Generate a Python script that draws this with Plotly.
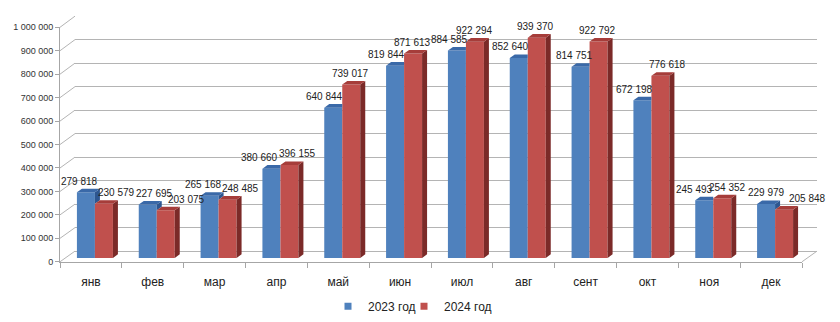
import plotly.graph_objects as go

# ---------------- data ----------------
months = ["янв", "фев", "мар", "апр", "май", "июн", "июл", "авг", "сент", "окт", "ноя", "дек"]
series_names = ["2023 год", "2024 год"]
v2023 = [279818, 227695, 265168, 380660, 640844, 819844, 884585, 852640, 814751, 672198, 245493, 229979]
v2024 = [230579, 203075, 248485, 396155, 739017, 871613, 922294, 939370, 922792, 776618, 254352, 205848]
y_ticks = [0, 100000, 200000, 300000, 400000, 500000, 600000, 700000, 800000, 900000, 1000000]

# ---------------- style / geometry (pixels) ----------------
W, H = 840, 322
FRONT_L, FRONT_R = 60, 802
FRONT_BOTTOM, FRONT_TOP = 265, 23
BACK_L, BACK_R = 75, 817
BACK_BOTTOM, BACK_TOP = 254, 11.5
YMAX = y_ticks[-1]
n = len(months)
PXU = (FRONT_R - FRONT_L) / n            # px per category
UPP = YMAX / (FRONT_BOTTOM - FRONT_TOP)  # value units per px

BAR_W = 18 / PXU
OFFS = [-14 / PXU, 4 / PXU]
BASE = 4 * UPP
DX = 5 / PXU
DY = 3.7 * UPP

FRONT_COL = ["#4F81BD", "#C0504D"]
TOP_COL = ["#3A69A8", "#A63D3A"]
SIDE_COL = ["#2D5690", "#7B2A28"]
GRID_COL = "#B4B4B4"
AXIS_COL = "#A6A6A6"
TXT = "#222222"
FONT = "Liberation Sans"

# label horizontal shifts (px, relative to category centre) as placed in the original
LABEL_DX = [
    [-11, 2, -11, -17, -14, -14, -12, -13, -11, -13, -15, -5],
    [26, 34, 26, 21, 12, 12, 13, 12, 12, 20, 18, 36],
]
LABEL_DY = 15
LEGEND_X = [328, 404]   # px, left edge of each legend box

xs = list(range(n))
vals = [v2023, v2024]

fig = go.Figure()

# back wall subplot (xy) - only carries the wall gridlines
fig.add_trace(go.Scatter(x=[None], y=[None], xaxis="x", yaxis="y",
                         showlegend=False, hoverinfo="skip"))

# front bars
for s in range(2):
    fig.add_trace(go.Bar(
        x=xs, y=vals[s], base=[BASE] * n, offset=OFFS[s], width=BAR_W,
        marker=dict(color=FRONT_COL[s], line=dict(width=0)),
        xaxis="x2", yaxis="y2", name=series_names[s], showlegend=False,
        hoverinfo="skip",
    ))


def add_poly(px, py, color):
    fig.add_trace(go.Scatter(x=px, y=py, mode="lines", fill="toself",
                             fillcolor=color, line=dict(width=0),
                             xaxis="x2", yaxis="y2", showlegend=False,
                             hoverinfo="skip"))


# 3D faces of 2023 (partly hidden behind 2024 bars)
side_x, side_y, top_x, top_y = [], [], [], []
for i in range(n):
    x0 = i + OFFS[0]
    x1 = x0 + BAR_W
    t = BASE + v2023[i]
    tr = BASE + v2024[i]
    if v2023[i] > v2024[i]:
        side_x += [x1, x1 + DX, x1 + DX, x1, x1, None]
        side_y += [tr, tr + DY, t + DY, t, tr, None]
        top_x += [x0, x1, x1 + DX, x0 + DX, x0, None]
        top_y += [t, t, t + DY, t + DY, t, None]
    else:
        top_x += [x0, x1, x1, x0 + DX, x0, None]
        top_y += [t, t, t + DY, t + DY, t, None]
add_poly(side_x, side_y, SIDE_COL[0])
add_poly(top_x, top_y, TOP_COL[0])

# 3D faces of 2024
side_x, side_y, top_x, top_y = [], [], [], []
for i in range(n):
    x0 = i + OFFS[1]
    x1 = x0 + BAR_W
    b = BASE
    t = BASE + v2024[i]
    side_x += [x1, x1 + DX, x1 + DX, x1, x1, None]
    side_y += [b, b + DY, t + DY, t, b, None]
    top_x += [x0, x1, x1 + DX, x0 + DX, x0, None]
    top_y += [t, t, t + DY, t + DY, t, None]
add_poly(side_x, side_y, SIDE_COL[1])
add_poly(top_x, top_y, TOP_COL[1])

# legend entries (one legend box per series so they can sit close together)
legend_ids = ["legend", "legend2"]
for s in range(2):
    fig.add_trace(go.Scatter(x=[None], y=[None], mode="markers", name=series_names[s],
                             marker=dict(symbol="square", size=7, color=FRONT_COL[s]),
                             xaxis="x2", yaxis="y2", legend=legend_ids[s]))

# data labels
annotations = []
for s in range(2):
    for i in range(n):
        annotations.append(dict(
            x=i, y=vals[s][i], xref="x2", yref="y2",
            text=f"{vals[s][i]:,}".replace(",", " "),
            showarrow=False, xshift=LABEL_DX[s][i], yshift=LABEL_DY,
            xanchor="center", yanchor="middle",
            font=dict(family=FONT, size=10, color=TXT),
        ))


def py_front(v):
    return (H - (FRONT_BOTTOM - v / UPP)) / H


def py_back(v):
    return (H - (BACK_BOTTOM - v / YMAX * (BACK_BOTTOM - BACK_TOP))) / H


# left wall lines and right floor edge
shapes = []
for v in y_ticks:
    shapes.append(dict(type="line", xref="paper", yref="paper",
                       x0=FRONT_L / W, y0=py_front(v), x1=BACK_L / W, y1=py_back(v),
                       line=dict(color=GRID_COL, width=1), layer="below"))
shapes.append(dict(type="line", xref="paper", yref="paper",
                   x0=FRONT_R / W, y0=py_front(0), x1=BACK_R / W, y1=py_back(0),
                   line=dict(color=GRID_COL, width=1), layer="below"))

legend_style = dict(orientation="h", xanchor="left", y=(H - 311) / H, yanchor="middle",
                    font=dict(family=FONT, size=12, color=TXT), itemwidth=30,
                    bgcolor="rgba(0,0,0,0)")

fig.update_layout(
    width=W, height=H,
    margin=dict(l=0, r=0, t=0, b=0),
    paper_bgcolor="white", plot_bgcolor="rgba(0,0,0,0)",
    separators=", ",
    barmode="overlay",
    hovermode=False,
    font=dict(family=FONT, color=TXT),
    xaxis=dict(domain=[BACK_L / W, BACK_R / W], range=[0, 1], visible=False,
               anchor="y", fixedrange=True),
    yaxis=dict(domain=[(H - BACK_BOTTOM) / H, (H - BACK_TOP) / H], range=[0, YMAX],
               anchor="x", tickmode="array", tickvals=y_ticks, showticklabels=False,
               ticks="", showgrid=True, gridcolor=GRID_COL, gridwidth=1,
               zeroline=True, zerolinecolor=GRID_COL, zerolinewidth=1,
               showline=False, fixedrange=True),
    xaxis2=dict(domain=[FRONT_L / W, FRONT_R / W], range=[-0.5, n - 0.5],
                anchor="y2", tickmode="array", tickvals=xs, ticktext=months,
                ticks="", showgrid=False, zeroline=False,
                showline=True, linecolor=AXIS_COL, linewidth=1,
                ticklabelstandoff=9,
                tickfont=dict(family=FONT, size=12, color=TXT),
                minor=dict(tickmode="array", tickvals=[k - 0.5 for k in range(n + 1)],
                           ticks="outside", ticklen=5, tickcolor=AXIS_COL, tickwidth=1,
                           showgrid=False),
                fixedrange=True),
    yaxis2=dict(domain=[(H - FRONT_BOTTOM) / H, (H - FRONT_TOP) / H], range=[0, YMAX],
                anchor="x2", tickmode="array", tickvals=y_ticks, tickformat=",d",
                ticks="outside", ticklen=4, tickcolor=AXIS_COL,
                showgrid=False, zeroline=False,
                showline=True, linecolor=AXIS_COL, linewidth=1,
                tickfont=dict(family=FONT, size=9, color="#333333"),
                fixedrange=True),
    showlegend=True,
    legend=dict(x=LEGEND_X[0] / W, **legend_style),
    legend2=dict(x=LEGEND_X[1] / W, **legend_style),
    annotations=annotations,
    shapes=shapes,
)

fig.write_html("out.html")
